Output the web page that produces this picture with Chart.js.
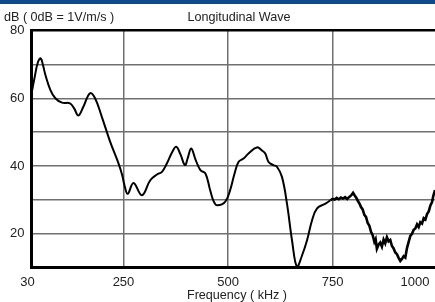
<!DOCTYPE html>
<html>
<head>
<meta charset="utf-8">
<script src="https://cdn.jsdelivr.net/npm/chart.js@4.4.1/dist/chart.umd.min.js"></script>
<style>
    html, body { margin: 0; padding: 0; background: #fff; }
    #wrap { width: 435px; height: 302px; }
</style>
</head>
<body>
<div id="wrap"><canvas id="waveChart" width="435" height="302"></canvas></div>
<script>
// smooth part of the response (kHz / dB)
const freqSmooth = [31, 38, 45, 52, 58, 63, 75, 87, 103, 122, 132, 142, 154, 170, 182, 198, 218, 238, 247, 252, 260,
    274, 294, 314, 330, 342, 354, 366, 376, 386, 397, 404, 412, 422, 434, 446, 457, 466, 474, 493, 505, 515,
    525, 537, 549, 569, 582, 589, 597, 608, 617, 629, 641, 653, 665, 677, 689, 701, 713, 733, 745];
const dbSmooth = [62, 66.5, 70.5, 71.8, 69.5, 67, 62.5, 60, 58.7, 58.5, 57, 54.9, 57.5, 61.5, 60, 54.6, 47.2, 40.8, 37.3, 34.5, 31.8,
    35, 31.4, 35.8, 37.5, 38.3, 40.8, 44, 45.7, 43.5, 40.3, 42.5, 45.2, 42, 38.8, 37.8, 33, 29.5, 28.4, 29.4, 32.9, 37.5,
    41.2, 42.2, 43.7, 45.5, 44.5, 43.7, 41.2, 40.3, 39.8, 36.8, 28.9, 18.1, 10.2, 13.6, 18.1, 24, 27.5, 28.9, 29.9];

// noisy tail above ~745 kHz
const freqNoisy = [745, 750, 755, 760, 765, 770, 775, 780, 785, 790, 795, 799, 803, 807, 811, 815, 818, 822, 826, 830,
    834, 838, 842, 846, 850, 853, 856, 860, 864, 868, 872, 876, 880, 884, 888, 892, 896, 900, 904, 908, 912, 916,
    920, 924, 928, 932, 936, 940, 944, 948, 952, 956, 960, 964, 968, 972, 976, 980, 984, 988, 991, 995];
const dbNoisy = [29.9, 30.3, 30.1, 30.6, 30.2, 30.7, 30.4, 30.8, 30.3, 30.9, 31.4, 32.1, 31.3, 30.6, 29.6, 28.8, 27.9, 27.2, 25.6, 25.0,
    23.2, 22.4, 20.6, 19.6, 17.6, 18.4, 15.6, 16.8, 17.4, 16.2, 18.3, 17.2, 19.0, 17.8, 18.2, 16.4, 15.7, 14.5, 14.0, 12.9, 12.0, 12.6,
    13.4, 13.0, 15.8, 17.6, 19.4, 20.0, 21.2, 21.6, 22.8, 22.0, 23.4, 23.0, 24.6, 24.2, 25.8, 26.6, 28.4, 29.4, 31.2, 32.9];

const xTickValues = [30, 250, 500, 750, 1000];
const xGridValues = [250, 500, 750];
const yLabelValues = [20, 40, 60, 80];

const chartTitle = 'Longitudinal Wave';
const yTitle = 'dB ( 0dB = 1V/m/s )';
const xTitle = 'Frequency ( kHz )';

const FONT = '"Liberation Sans", Arial, sans-serif';
const TEXT = '#222';

const toPoints = (xs, ys) => xs.map((x, i) => ({ x: x, y: ys[i] }));

// header bar, titles and the x tick labels (the 1000 label sits inside the edge)
const overlay = {
    id: 'overlay',
    afterDraw(chart) {
        const c = chart.ctx;
        const xs = chart.scales.x;
        c.save();
        c.fillStyle = '#0f4a8c';
        c.fillRect(0, 0, chart.width, 4);

        c.fillStyle = TEXT;
        c.font = '12.6px ' + FONT;
        c.textBaseline = 'middle';
        c.textAlign = 'left';
        c.fillText(yTitle, 4, 18);
        c.textAlign = 'center';
        c.fillText(chartTitle, 239, 18);
        c.fillText(xTitle, 237, 296);

        c.font = '13px ' + FONT;
        xTickValues.forEach(v => {
            let px;
            if (v === 30) px = 27.5;
            else if (v === 1000) px = 415;
            else px = xs.getPixelForValue(v);
            c.fillText(String(v), px, 282.5);
        });
        c.restore();
    }
};

const ctx = document.getElementById('waveChart');

new Chart(ctx, {
    type: 'line',
    data: {
        datasets: [
            {
                data: toPoints(freqSmooth, dbSmooth),
                borderColor: '#000',
                borderWidth: 2,
                pointRadius: 0,
                tension: 0.4
            },
            {
                data: toPoints(freqNoisy, dbNoisy),
                borderColor: '#000',
                borderWidth: 2.6,
                pointRadius: 0,
                tension: 0
            }
        ]
    },
    options: {
        responsive: false,
        animation: false,
        devicePixelRatio: 1,
        layout: { padding: { top: 30.5, left: 0, right: 0, bottom: 0 } },
        plugins: {
            legend: { display: false },
            tooltip: { enabled: false }
        },
        scales: {
            x: {
                type: 'linear',
                min: 30,
                max: 995,
                afterBuildTicks: s => { s.ticks = xGridValues.map(v => ({ value: v })); },
                afterFit: s => { s.height = 34.3; s.paddingLeft = 0; s.paddingRight = 0; },
                ticks: { display: false },
                grid: { color: '#707070', lineWidth: 1.5, drawTicks: false },
                border: { color: '#000', width: 3 }
            },
            y: {
                min: 10,
                max: 80,
                afterFit: s => { s.width = 31.5; s.paddingTop = 0; s.paddingBottom = 0; },
                ticks: {
                    stepSize: 10,
                    padding: 7,
                    color: TEXT,
                    font: { family: FONT, size: 13 },
                    callback: v => yLabelValues.includes(v) ? String(v) : ''
                },
                grid: {
                    drawTicks: false,
                    color: c => (c.tick && c.tick.value === 80) ? '#000' : '#707070',
                    lineWidth: c => (c.tick && c.tick.value === 80) ? 2.6 : 1.5
                },
                border: { color: '#000', width: 3 }
            }
        }
    },
    plugins: [overlay]
});
</script>
</body>
</html>
